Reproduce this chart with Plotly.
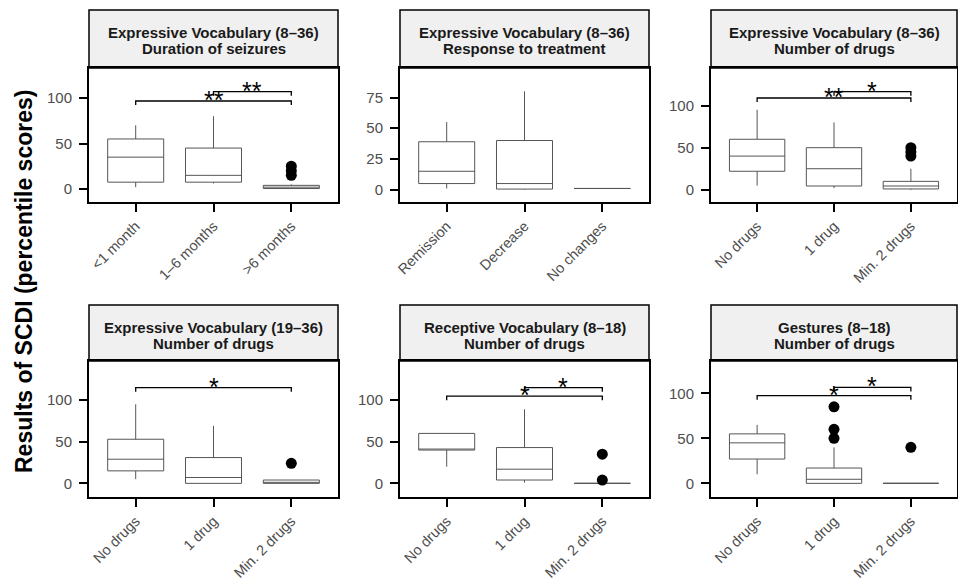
import plotly.graph_objects as go

W, H = 958, 582

# ---------------- data ----------------
title_line1 = [
    "Expressive Vocabulary (8–36)",
    "Expressive Vocabulary (8–36)",
    "Expressive Vocabulary (8–36)",
    "Expressive Vocabulary (19–36)",
    "Receptive Vocabulary (8–18)",
    "Gestures (8–18)",
]
title_line2 = [
    "Duration of seizures",
    "Response to treatment",
    "Number of drugs",
    "Number of drugs",
    "Number of drugs",
    "Number of drugs",
]
cats_duration = ["<1 month", "1–6 months", ">6 months"]
cats_response = ["Remission", "Decrease", "No changes"]
cats_drugs = ["No drugs", "1 drug", "Min. 2 drugs"]
categories = [cats_duration, cats_response, cats_drugs, cats_drugs, cats_drugs, cats_drugs]

lower_whisker = [[2, 6, 0], [1, 0, 1], [5, 2, 0], [5, 0, 0], [20, 1, 0], [10, 0, 0]]
q1_values = [[7.5, 7.5, 0.5], [5, 0.5, 1], [22, 4.5, 1], [15, 0, 0], [40, 4, 0], [27, 0, 0]]
median_values = [[35, 15, 2], [15, 5, 1], [40, 25, 4.5], [29, 7, 0], [40, 17, 0], [45, 4.5, 0]]
q3_values = [[55, 45, 4], [39, 40, 1], [60, 50, 10], [53, 31, 4], [60, 43, 0], [55, 17, 0]]
upper_whisker = [[70, 80, 5], [55, 80, 1], [95, 80, 25], [95, 69, 4], [60, 89, 0], [65, 40, 0]]

# outliers: (category index, value)
outliers = [
    [(2, 15), (2, 20), (2, 25)],
    [],
    [(2, 40), (2, 45), (2, 50)],
    [(2, 24)],
    [(2, 4), (2, 35)],
    [(1, 50), (1, 60), (1, 85), (2, 40)],
]

# significance brackets: (from idx, to idx, height, label)
brackets = [
    [(0, 2, 96.7, "**"), (1, 2, 107, "**")],
    [],
    [(0, 2, 109, "**"), (1, 2, 116.5, "*")],
    [(0, 2, 115, "*")],
    [(0, 2, 104.8, "*"), (1, 2, 115, "*")],
    [(0, 2, 97.4, "*"), (1, 2, 106.7, "*")],
]

y_ranges = [[-14.3, 133], [-10, 99], [-14.5, 144.6], [-16.4, 147], [-16.4, 147], [-15.2, 136]]
y_ticks = [[0, 50, 100], [0, 25, 50, 75], [0, 50, 100], [0, 50, 100], [0, 50, 100], [0, 50, 100]]

y_title = "Results of SCDI (percentile scores)"

# ---------------- layout geometry (pixels) ----------------
col_px = [(89, 338), (400, 649), (711, 957)]
row_plot_px = [(68, 202), (361, 497)]
row_head_px = [(10, 68), (305, 361)]

def px_x(v):
    return v / W

def px_y(v):
    return 1 - v / H

FONT = "Liberation Sans, Arial, sans-serif"

fig = go.Figure()
layout = dict(
    width=W, height=H, margin=dict(l=0, r=0, t=0, b=0, autoexpand=False),
    paper_bgcolor="white", plot_bgcolor="white", showlegend=False,
    font=dict(family=FONT, color="#4d4d4d"),
    shapes=[], annotations=[],
)

for i in range(6):
    r, c = divmod(i, 3)
    n = i + 1
    xa = "x" if n == 1 else f"x{n}"
    ya = "y" if n == 1 else f"y{n}"
    xk = "xaxis" if n == 1 else f"xaxis{n}"
    yk = "yaxis" if n == 1 else f"yaxis{n}"
    cats = categories[i]
    x0p, x1p = col_px[c]
    yt, yb = row_plot_px[r]
    span = y_ranges[i][1] - y_ranges[i][0]

    layout[xk] = dict(
        domain=[px_x(x0p), px_x(x1p)], anchor=ya, type="category",
        categoryorder="array", categoryarray=cats, range=[-0.6, 2.6],
        showline=True, linecolor="black", linewidth=2, mirror=True,
        ticks="outside", ticklen=8, tickwidth=2, tickcolor="black",
        tickangle=-45, tickfont=dict(size=14.5, color="#4d4d4d", family=FONT),
        showgrid=False, zeroline=False, fixedrange=True, automargin=False,
    )
    layout[yk] = dict(
        domain=[px_y(yb), px_y(yt)], anchor=xa, range=y_ranges[i],
        tickvals=y_ticks[i],
        showline=True, linecolor="black", linewidth=2, mirror=True,
        ticks="outside", ticklen=8, tickwidth=2, tickcolor="black",
        tickfont=dict(size=15, color="#4d4d4d", family=FONT),
        ticklabelstandoff=4,
        showgrid=False, zeroline=False, fixedrange=True, automargin=False,
    )

    fig.add_trace(go.Box(
        x=cats, q1=q1_values[i], median=median_values[i], q3=q3_values[i],
        lowerfence=lower_whisker[i], upperfence=upper_whisker[i],
        boxpoints=False, fillcolor="white", whiskerwidth=0, width=0.72,
        line=dict(color="#555555", width=1), xaxis=xa, yaxis=ya,
        hoverinfo="skip",
    ))

    if outliers[i]:
        fig.add_trace(go.Scatter(
            x=[cats[k] for k, _ in outliers[i]], y=[v for _, v in outliers[i]],
            mode="markers", marker=dict(color="black", size=11),
            xaxis=xa, yaxis=ya, hoverinfo="skip",
        ))

    tip = 0.03 * span
    for a, b, h, lab in brackets[i]:
        fig.add_trace(go.Scatter(
            x=[cats[a], cats[a], cats[b], cats[b]], y=[h - tip, h, h, h - tip],
            mode="lines", line=dict(color="black", width=1.3),
            xaxis=xa, yaxis=ya, hoverinfo="skip",
        ))
        layout["annotations"].append(dict(
            x=(a + b) / 2, y=h, xref=xa, yref=ya, text=lab, showarrow=False,
            yanchor="middle", xanchor="center", yshift=1,
            font=dict(size=25, color="black", family=FONT),
        ))

    # header strip
    hy0, hy1 = row_head_px[r]
    layout["shapes"].append(dict(
        type="rect", xref="paper", yref="paper",
        x0=px_x(x0p), x1=px_x(x1p), y0=px_y(hy1), y1=px_y(hy0),
        fillcolor="#f0f0f0", line=dict(color="black", width=1.5), layer="below",
    ))
    for line_text, off in ((title_line1[i], 22.5), (title_line2[i], 38)):
        layout["annotations"].append(dict(
            x=px_x((x0p + x1p) / 2), y=px_y(hy0 + off), xref="paper", yref="paper",
            text="<b>" + line_text + "</b>",
            showarrow=False, xanchor="center", yanchor="middle", align="center",
            font=dict(size=15, color="#1a1a1a", family=FONT),
        ))

layout["annotations"].append(dict(
    x=px_x(24), y=px_y(282), xref="paper", yref="paper", text="<b>" + y_title + "</b>",
    textangle=-90, showarrow=False, xanchor="center", yanchor="middle",
    font=dict(size=23, color="black", family=FONT),
))

fig.update_layout(**layout)
fig.write_html(
    "out.html",
    config={"displayModeBar": False},
    post_script="document.body.style.margin='0';document.body.style.overflow='hidden';",
)
